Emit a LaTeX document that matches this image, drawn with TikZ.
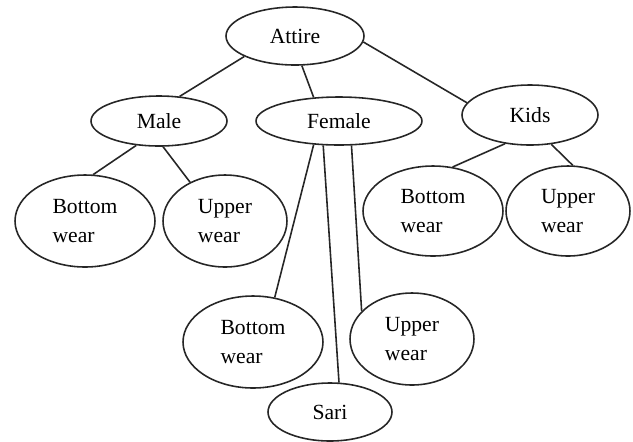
\documentclass[tikz,border=0pt]{standalone}
\usepackage{fontspec}
\setmainfont{Liberation Serif}
\usetikzlibrary{shapes.geometric}

\begin{document}
\begin{tikzpicture}[
        x=0.02cm, y=-0.02cm,
        oval/.style={draw=black!85, line width=0.9pt, ellipse, inner sep=0pt,
            align=left, font=\fontsize{12.3}{16.5}\selectfont},
        link/.style={draw=black!85, line width=0.9pt}
    ]
        \useasboundingbox (0,0) rectangle (633,441);
        % top and second level
        \node[oval, minimum width=2.76cm, minimum height=1.16cm] (attire) at (295,36) {Attire};
        \node[oval, minimum width=2.72cm, minimum height=1.0cm] (male) at (159,121) {Male};
        \node[oval, minimum width=3.32cm, minimum height=0.96cm] (female) at (339,121) {Female};
        \node[oval, minimum width=2.72cm, minimum height=1.2cm] (kids) at (530,115) {Kids};
        % leaves
        \node[oval, minimum width=2.8cm, minimum height=1.84cm] (mbottom) at (85,221) {Bottom\\wear};
        \node[oval, minimum width=2.48cm, minimum height=1.84cm] (mupper) at (225,221) {Upper\\wear};
        \node[oval, minimum width=2.8cm, minimum height=1.84cm] (fbottom) at (253,342) {Bottom\\wear};
        \node[oval, minimum width=2.48cm, minimum height=1.84cm] (fupper) at (412,339) {Upper\\wear};
        \node[oval, minimum width=2.48cm, minimum height=1.16cm] (sari) at (330,412) {Sari};
        \node[oval, minimum width=2.8cm, minimum height=1.8cm] (kbottom) at (433,211) {Bottom\\wear};
        \node[oval, minimum width=2.48cm, minimum height=1.8cm] (kupper) at (568,211) {Upper\\wear};

        \draw[link] (attire.202) -- (male.50);
        \draw[link] (attire.283) -- (female.137);
        \draw[link] (attire.355) -- (kids.169);
        \draw[link] (male.227) -- (mbottom.80);
        \draw[link] (male.279) -- (mupper.132);
        \draw[link] (female.223) -- (fbottom.64);
        \draw[link] (female.237) -- (sari.73);
        \draw[link] (female.297) -- (fupper.151);
        \draw[link] (kids.229) -- (kbottom.66);
        \draw[link] (kids.306) -- (kupper.84);
    \end{tikzpicture}
\end{document}
